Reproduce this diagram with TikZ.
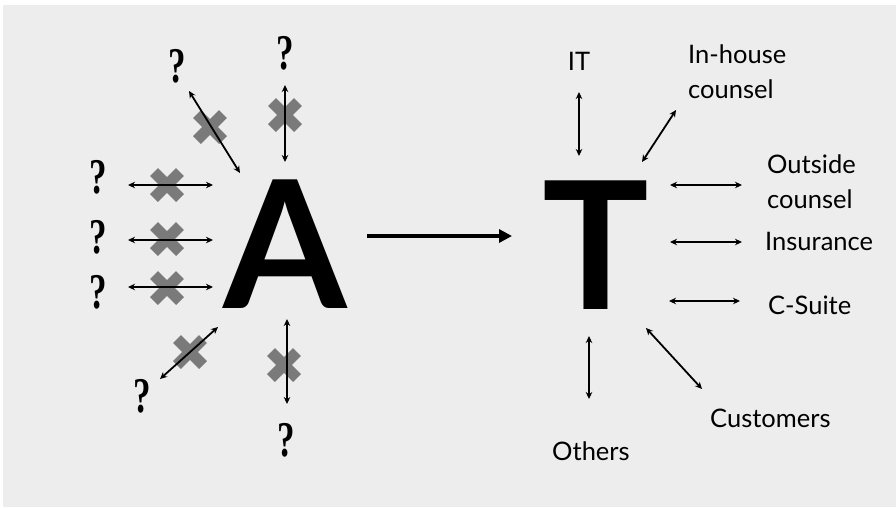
\documentclass[tikz,border=0pt]{standalone}
\usepackage{fontspec}
\setmainfont{Lato}
\newfontfamily\qfont{Liberation Serif}
\usetikzlibrary{arrows.meta}
\definecolor{bg}{HTML}{EDEDED}
\definecolor{xgray}{HTML}{7A7A7A}
\begin{document}
\begin{tikzpicture}[x=1pt,y=-1pt,
  biarrow/.style={line width=1.8pt,{Stealth[length=7pt,width=6.5pt]}-{Stealth[length=7pt,width=6.5pt]}},
  mainarrow/.style={line width=3.2pt,-{Triangle[length=13pt,width=13pt]}},
  crossline/.style={xgray,line width=11pt},
  qmark/.style={font=\qfont\bfseries\fontsize{50}{50}\selectfont, inner sep=0},
  lbl/.style={font=\fontsize{25.5}{30}\selectfont, inner sep=0, anchor=base west},
  big/.style={font=\bfseries\fontsize{178}{178}\selectfont, inner sep=0, anchor=base},
  xcross/.pic={\draw[crossline] (-13,-13) -- (13,13) (-13,13) -- (13,-13);}]
% background
\fill[white] (0,0) rectangle (896,507);
\fill[bg] (3,5) rectangle (896,507);

% big letters
\node[big] (A) at (285,308) {A};
\node[big] (T) at (596,309) {T};

% crosses (drawn below the arrows)
\pic at (210,127) {xcross};
\pic at (285,115) {xcross};
\pic at (167,185) {xcross};
\pic at (167,239) {xcross};
\pic at (167,288) {xcross};
\pic at (190,352) {xcross};
\pic at (284,365) {xcross};

% question marks
\newcommand{\qmk}{\scalebox{0.7}[1]{?}}
\node[qmark] (q1) at (177,66) {\qmk};
\node[qmark] (q2) at (285,53) {\qmk};
\node[qmark] (q3) at (98,177) {\qmk};
\node[qmark] (q4) at (98,237) {\qmk};
\node[qmark] (q5) at (98,292) {\qmk};
\node[qmark] (q6) at (142,396) {\qmk};
\node[qmark] (q7) at (286,440) {\qmk};

% left arrow end points
\coordinate (a1s) at (189,91);  \coordinate (a1e) at (240,173);
\coordinate (a2s) at (285,85);  \coordinate (a2e) at (285,162);
\coordinate (a3s) at (128,185); \coordinate (a3e) at (213,185);
\coordinate (a4s) at (128,240); \coordinate (a4e) at (213,240);
\coordinate (a5s) at (128,287); \coordinate (a5e) at (213,287);
\coordinate (a6s) at (160,379); \coordinate (a6e) at (218,327);
\coordinate (a7s) at (287,319); \coordinate (a7e) at (287,404);
\foreach \i in {1,...,7} {\draw[biarrow] (a\i s) -- (a\i e);}

% main arrow
\coordinate (ms) at (367,236);
\coordinate (me) at (512,236);
\draw[mainarrow] (ms) -- (me);

% right labels
\node[lbl, anchor=base] (it) at (579,70) {IT};
\node[lbl] (ih1) at (688,63) {In-house};
\node[lbl] (ih2) at (688,98) {counsel};
\node[lbl] (oc1) at (767,173) {Outside};
\node[lbl] (oc2) at (767,208) {counsel};
\node[lbl] (ins) at (765,250) {Insurance};
\node[lbl] (cs) at (768,314) {C-Suite};
\node[lbl] (cu) at (710,427) {Customers};
\node[lbl] (ot) at (552,460) {Others};

% right arrows
\coordinate (b1s) at (579,92);  \coordinate (b1e) at (579,156);
\coordinate (b2s) at (642,162); \coordinate (b2e) at (676,110);
\coordinate (b3s) at (670,185); \coordinate (b3e) at (742,185);
\coordinate (b4s) at (670,242); \coordinate (b4e) at (742,242);
\coordinate (b5s) at (669,301); \coordinate (b5e) at (740,301);
\coordinate (b6s) at (646,328); \coordinate (b6e) at (702,389);
\coordinate (b7s) at (589,336); \coordinate (b7e) at (589,399);
\foreach \i in {1,...,7} {\draw[biarrow] (b\i s) -- (b\i e);}
\end{tikzpicture}
\end{document}
